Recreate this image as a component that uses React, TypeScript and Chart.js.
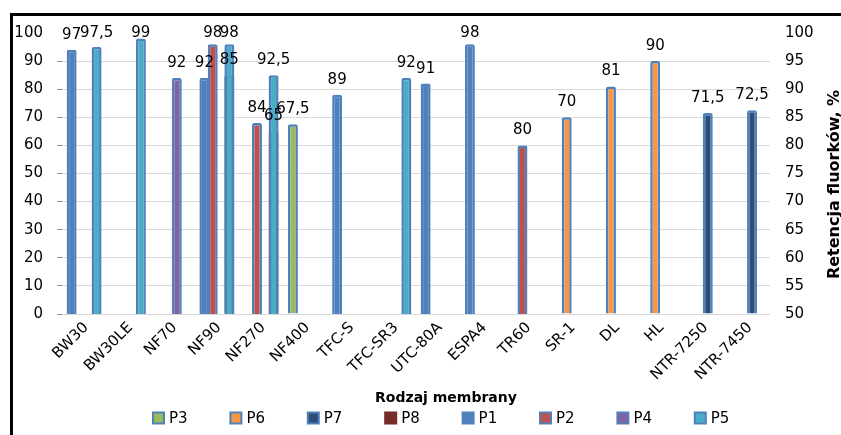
import React, { useEffect, useRef } from 'react';
import { Chart, registerables } from 'chart.js';

Chart.register(...registerables);

const categories = ['BW30', 'BW30LE', 'NF70', 'NF90', 'NF270', 'NF400', 'TFC-S', 'TFC-SR3', 'UTC-80A', 'ESPA4', 'TR60', 'SR-1', 'DL', 'HL', 'NTR-7250', 'NTR-7450'];

// Series plotted against the right axis (50–100)
const p1 = [97, null, null, 92, null, null, 89, null, 91, 98, null, null, null, null, null, null];
const p2 = [null, null, null, 98, 84, null, null, null, null, null, 80, null, null, null, null, null];
const p4 = [null, null, 92, null, null, null, null, null, null, null, null, null, null, null, null, null];
const p5 = [97.5, 99, null, 98, 92.5, null, null, 92, null, null, null, null, null, null, null, null];

// Series plotted against the left axis (0–100)
const p3 = [null, null, null, null, null, 67.5, null, null, null, null, null, null, null, null, null, null];
const p6 = [null, null, null, null, null, null, null, null, null, null, null, 70, 81, 90, null, null];
const p7 = [null, null, null, null, null, null, null, null, null, null, null, null, null, null, 71.5, 72.5];
const p8 = [null, null, null, 85, 65, null, null, null, null, null, null, null, null, null, null, null];

const leftAxis = { min: 0, max: 100, step: 10 };
const rightAxis = { min: 50, max: 100, step: 5 };

const legendOrder = ['P3', 'P6', 'P7', 'P8', 'P1', 'P2', 'P4', 'P5'];
const xTitle = 'Rodzaj membrany';
const yRightTitle = 'Retencja fluorków, %';

const FONT = "'DejaVu Sans', sans-serif";
const EDGE = '#4F81BD';

const valueLabels = {
  id: 'valueLabels',
  afterDatasetsDraw(chart: any) {
    const ctx = chart.ctx;
    ctx.save();
    ctx.font = `15px ${FONT}`;
    ctx.fillStyle = '#000';
    ctx.textAlign = 'center';
    ctx.textBaseline = 'alphabetic';
    chart.data.datasets.forEach((ds: any, i: number) => {
      const meta = chart.getDatasetMeta(i);
      meta.data.forEach((bar: any, j: number) => {
        const v = ds.data[j];
        if (v == null) return;
        const y = Math.max(bar.y - 11, chart.chartArea.top + 4);
        ctx.fillText(String(v).replace('.', ','), bar.x, y);
      });
    });
    ctx.restore();
  },
};

const axisTitles = {
  id: 'axisTitles',
  afterDraw(chart: any) {
    const ctx = chart.ctx;
    const a = chart.chartArea;
    ctx.save();
    ctx.fillStyle = '#000';
    ctx.textAlign = 'center';
    ctx.textBaseline = 'middle';
    ctx.font = `bold 14px ${FONT}`;
    ctx.fillText(xTitle, chart.width / 2, a.bottom + 84);
    ctx.font = `bold 16px ${FONT}`;
    ctx.translate(a.right + 65, (a.top + a.bottom) / 2 + 11);
    ctx.rotate(-Math.PI / 2);
    ctx.fillText(yRightTitle, 0, 0);
    ctx.restore();
  },
};

const bottomLegend = {
  id: 'bottomLegend',
  afterDraw(chart: any) {
    const ctx = chart.ctx;
    const step = 77.4;
    const box = 11;
    const startX = chart.width / 2 - 293;
    const cy = chart.chartArea.bottom + 104;
    ctx.save();
    ctx.font = `15px ${FONT}`;
    ctx.textAlign = 'left';
    ctx.textBaseline = 'middle';
    legendOrder.forEach((name, k) => {
      const ds: any = chart.data.datasets.find((d: any) => d.label === name);
      if (!ds) return;
      const x = startX + k * step;
      ctx.fillStyle = ds.backgroundColor;
      ctx.fillRect(x, cy - box / 2, box, box);
      ctx.lineWidth = 2;
      ctx.strokeStyle = ds.borderColor;
      ctx.strokeRect(x, cy - box / 2, box, box);
      ctx.fillStyle = '#000';
      ctx.fillText(ds.label, x + box + 5, cy + 1);
    });
    ctx.restore();
  },
};

function bar(label: string, data: (number | null)[], fill: string, edge: string, axis: string, stack: string) {
  return {
    label,
    data,
    backgroundColor: fill,
    borderColor: edge,
    borderWidth: 2.5,
    borderRadius: 2,
    yAxisID: axis,
    stack,
    categoryPercentage: 0.752,
    barPercentage: 1.2,
  };
}

export default function App() {
  const ref = useRef<HTMLCanvasElement>(null);

  useEffect(() => {
    if (!ref.current) return;
    const tickFont = { family: FONT, size: 15 };
    const hideTop = (c: any, col: string) => (c.tick && c.tick.value === leftAxis.max ? 'rgba(0,0,0,0)' : col);
    const chart = new Chart(ref.current, {
      type: 'bar',
      data: {
        labels: categories,
        datasets: [
          bar('P1', p1, '#4F81BD', '#4F81BD', 'y1', 's0'),
          bar('P2', p2, '#C0504D', EDGE, 'y1', 's1'),
          bar('P4', p4, '#8064A2', EDGE, 'y1', 's2'),
          bar('P5', p5, '#4BACC6', EDGE, 'y1', 's3'),
          bar('P3', p3, '#9BBB59', EDGE, 'y', 's0'),
          bar('P6', p6, '#F79646', EDGE, 'y', 's1'),
          bar('P7', p7, '#2C4D75', EDGE, 'y', 's2'),
          bar('P8', p8, '#772C2A', '#772C2A', 'y', 's3'),
        ] as any,
      },
      options: {
        animation: false,
        responsive: false,
        devicePixelRatio: 1,
        layout: { padding: { top: 17, left: 0, right: 0, bottom: 31 } },
        plugins: {
          tooltip: { enabled: false },
          title: { display: false },
          legend: { display: false },
        },
        scales: {
          x: {
            grid: { display: false, drawTicks: false },
            border: { display: false },
            ticks: {
              autoSkip: false,
              minRotation: 45,
              maxRotation: 45,
              padding: 5,
              labelOffset: 2,
              color: '#000',
              font: tickFont,
            },
            afterFit: (s: any) => { s.height = 90; },
          },
          y: {
            position: 'left',
            min: leftAxis.min,
            max: leftAxis.max,
            stacked: false,
            ticks: { stepSize: leftAxis.step, padding: 14, color: '#000', font: tickFont },
            grid: {
              color: (c: any) => hideTop(c, '#D9D9D9'),
              tickColor: (c: any) => hideTop(c, '#8C8C8C'),
              tickLength: 5,
              drawTicks: true,
            },
            border: { display: false },
            afterFit: (s: any) => { s.width = 49; s.paddingTop = 0; s.paddingBottom = 0; },
          },
          y1: {
            position: 'right',
            min: rightAxis.min,
            max: rightAxis.max,
            stacked: false,
            ticks: { stepSize: rightAxis.step, padding: 15, color: '#000', font: tickFont },
            grid: { drawOnChartArea: false, drawTicks: false },
            border: { display: false },
            afterFit: (s: any) => { s.width = 109; s.paddingTop = 0; s.paddingBottom = 0; },
          },
        },
      } as any,
      plugins: [valueLabels, axisTitles, bottomLegend],
    });
    return () => chart.destroy();
  }, []);

  return (
    <div style={{ position: 'fixed', left: 0, top: 0, width: 841, height: 435, overflow: 'hidden', background: '#fff' }}>
      <div
        style={{
          position: 'absolute',
          left: 10,
          top: 13,
          width: 900,
          height: 440,
          borderTop: '3px solid #000',
          borderLeft: '3px solid #000',
        }}
      >
        <canvas ref={ref} width={866} height={419} style={{ display: 'block' }} />
      </div>
    </div>
  );
}
